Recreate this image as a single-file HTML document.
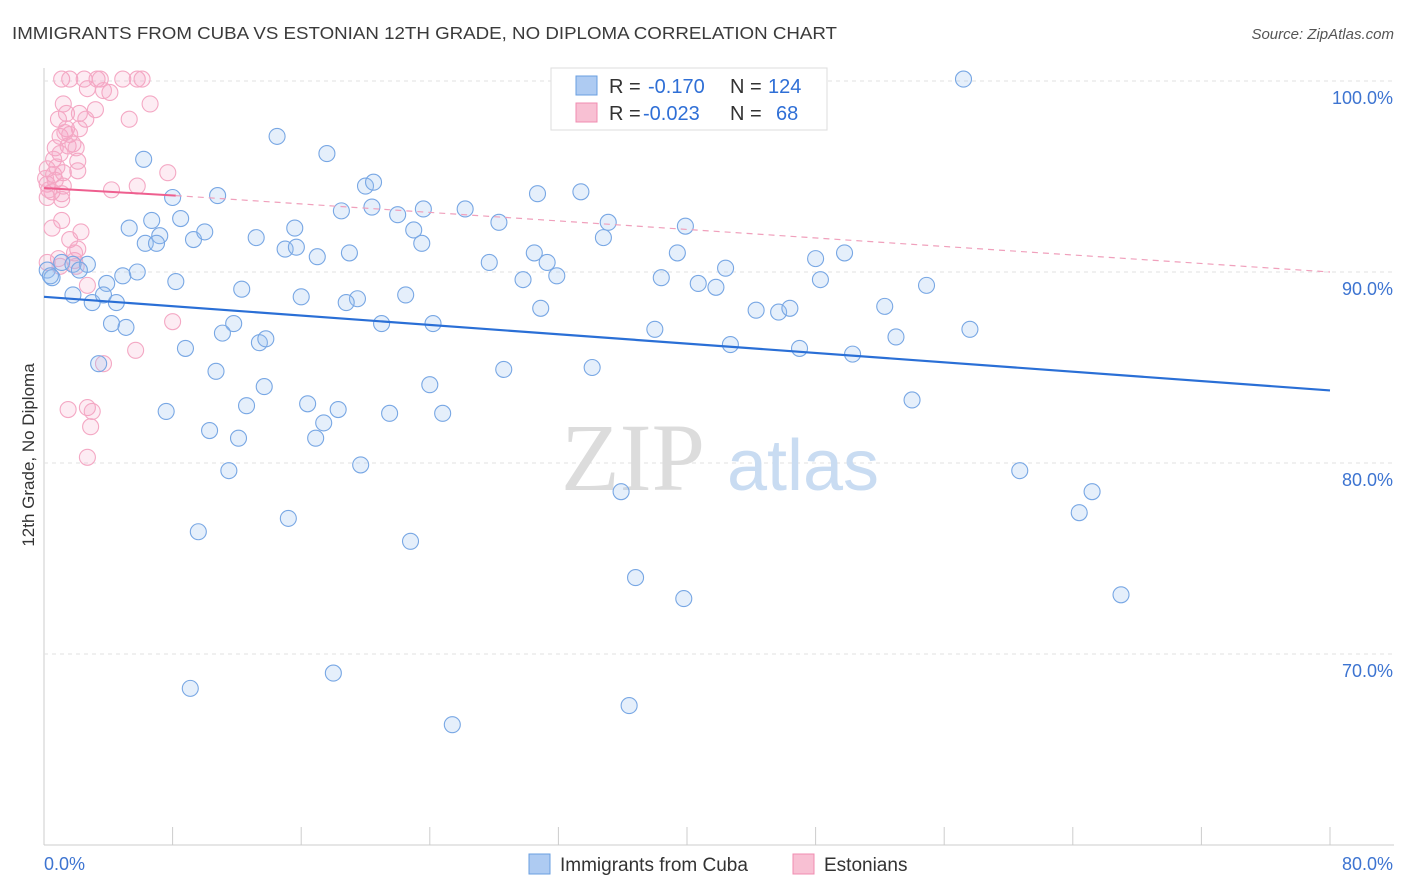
<!DOCTYPE html>
<html><head><meta charset="utf-8">
<style>
body{margin:0;background:#fff;font-family:"Liberation Sans",sans-serif;}
#wrap{position:relative;width:1406px;height:892px;overflow:hidden;}
</style></head>
<body>
<div id="wrap">
<svg id="chart" width="1406" height="892">
  <text x="12" y="39" font-size="17.5" fill="#3a3a3a" textLength="825" lengthAdjust="spacingAndGlyphs">IMMIGRANTS FROM CUBA VS ESTONIAN 12TH GRADE, NO DIPLOMA CORRELATION CHART</text>
  <text x="1394" y="39" font-size="15" fill="#555" text-anchor="end" font-style="italic">Source: ZipAtlas.com</text>
  <text transform="translate(34,455) rotate(-90)" font-size="17" fill="#333" text-anchor="middle">12th Grade, No Diploma</text>
  <g id="grid"></g>
  <g id="watermark">
    <text x="633" y="490" font-size="96" font-family="Liberation Serif,serif" fill="#dcdcdc" text-anchor="middle">ZIP</text>
    <text x="803" y="490" font-size="72" fill="#c9dcf2" text-anchor="middle">atlas</text>
  </g>
  <g id="pts"></g>
  <g id="trend"></g>
  <g>
    <rect x="551" y="68" width="276" height="62" fill="#fff" stroke="#ddd"/>
    <rect x="576" y="76" width="21" height="19" fill="#aecbf2" stroke="#6a9fe0"/>
    <rect x="576" y="103" width="21" height="19" fill="#f8c0d3" stroke="#f08cb0"/>
    <text x="609" y="93" font-size="20" fill="#333">R = <tspan x="648" fill="#2f6fd6">-0.170</tspan><tspan x="730">N = </tspan><tspan x="768" fill="#2f6fd6">124</tspan></text>
    <text x="609" y="120" font-size="20" fill="#333">R = <tspan x="643" fill="#2f6fd6">-0.023</tspan><tspan x="730">N = </tspan><tspan x="776" fill="#2f6fd6">68</tspan></text>
  </g>
  <g>
    <rect x="529" y="854" width="21" height="20" fill="#aecbf2" stroke="#6a9fe0"/>
    <text x="560" y="871" font-size="19" fill="#333">Immigrants from Cuba</text>
    <rect x="793" y="854" width="21" height="20" fill="#f8c0d3" stroke="#f08cb0"/>
    <text x="824" y="871" font-size="19" fill="#333">Estonians</text>
  </g>
</svg>
</div>
<script>
const xTicks=[0,8,16,24,32,40,48,56,64,72,80];
const yTicks=[70,80,90,100];
const yTickLabels=["70.0%","80.0%","90.0%","100.0%"];
const xEndLabels=["0.0%","80.0%"];
const cubaX=[57.2,14.5,17.6,6.2,20.0,20.5,30.7,33.4,10.8,8.0,18.5,20.4,22.0,23.6,26.2,28.3,35.1,39.9,6.7,8.5,5.3,7.2,6.3,7.0,9.3,10.0,15.6,13.2,15.0,15.7,17.0,19.0,23.0,23.5,30.5,31.3,31.9,34.8,39.4,42.4,48.0,49.8,48.3,38.4,40.7,41.8,27.7,29.8,30.9,2.7,1.1,1.8,0.2,0.5,2.2,3.9,4.9,5.8,8.2,12.3,16.0,22.5,19.5,18.8,1.8,3.0,4.5,3.7,4.2,5.1,11.8,11.1,21.0,24.2,13.4,13.8,8.8,38.0,42.7,44.3,45.7,46.4,47.0,50.3,52.3,53.0,54.9,57.6,3.4,10.7,13.7,24.0,28.6,34.1,12.6,16.4,18.3,21.5,24.8,7.6,10.3,12.1,16.9,17.4,19.7,11.5,35.9,60.7,65.2,64.4,9.6,15.2,22.8,36.8,39.8,67.0,9.1,18.0,36.4,25.4,54.0,0.4];
const cubaY=[100.1,97.1,96.2,95.9,94.5,94.7,94.1,94.2,94.0,93.9,93.2,93.4,93.0,93.3,93.3,92.6,92.6,92.4,92.7,92.8,92.3,91.9,91.5,91.5,91.7,92.1,92.3,91.8,91.2,91.3,90.8,91.0,92.2,91.5,91.0,90.5,89.8,91.8,91.0,90.2,90.7,91.0,89.6,89.7,89.4,89.2,90.5,89.6,88.1,90.4,90.5,90.4,90.1,89.7,90.1,89.4,89.8,90.0,89.5,89.1,88.7,88.8,88.6,88.4,88.8,88.4,88.4,88.8,87.3,87.1,87.3,86.8,87.3,87.3,86.3,86.5,86.0,87.0,86.2,88.0,87.9,88.1,86.0,85.7,88.2,86.6,89.3,87.0,85.2,84.8,84.0,84.1,84.9,85.0,83.0,83.1,82.8,82.6,82.6,82.7,81.7,81.3,81.3,82.1,79.9,79.6,78.5,79.6,78.5,77.4,76.4,77.1,75.9,74.0,72.9,73.1,68.2,69.0,67.3,66.3,83.3,89.8];
const estX=[1.1,1.6,2.5,3.3,3.5,4.9,5.8,6.1,2.7,4.1,1.2,6.6,3.2,1.4,2.2,5.3,2.6,1.4,2.2,1.0,1.6,0.7,1.5,1.8,1.0,0.6,2.1,0.2,0.6,1.2,0.7,0.2,1.2,0.5,0.2,1.1,4.2,5.8,7.7,2.1,1.1,0.5,2.3,1.6,2.1,1.9,0.2,1.0,2.0,2.7,8.0,5.7,3.7,1.5,2.7,3.0,2.9,2.7,3.7,0.9,1.3,2.0,0.8,0.1,1.1,0.9,1.9,0.3];
const estY=[100.1,100.1,100.1,100.1,100.1,100.1,100.1,100.1,99.6,99.4,98.8,98.8,98.5,98.3,98.3,98.0,98.0,97.5,97.5,97.1,97.2,96.5,96.6,96.7,96.2,95.9,95.8,95.4,95.1,95.2,94.8,94.6,94.5,94.2,93.9,94.1,94.3,94.5,95.2,95.3,92.7,92.3,92.1,91.7,91.2,90.6,90.5,90.3,90.3,89.3,87.4,85.9,85.2,82.8,82.9,82.7,81.9,80.3,99.5,98.0,97.3,96.5,95.5,94.9,93.8,90.7,91.0,94.3];
const cubaTrendX=[0,80];
const cubaTrendY=[88.7,83.8];
const estTrendX=[0,8.2,80];
const estTrendY=[94.4,94.0,90.0];

const NS="http://www.w3.org/2000/svg";
const X0=44,X1=1330,YTOP=81,PXPER=19.1;
function xs(v){return X0+(v/80)*(X1-X0);}
function ys(v){return YTOP+(100-v)*PXPER;}
function mk(tag,attrs,parent){const e=document.createElementNS(NS,tag);for(const k in attrs)e.setAttribute(k,attrs[k]);parent.appendChild(e);return e;}
const grid=document.getElementById('grid');
mk('line',{x1:X0,y1:68,x2:X0,y2:845,stroke:'#ccc'},grid);
mk('line',{x1:X0,y1:845,x2:1394,y2:845,stroke:'#ccc'},grid);
yTicks.forEach((t,i)=>{
  const gl=mk('line',{x1:X0,y1:ys(t),x2:1394,y2:ys(t),stroke:'#e2e2e2','stroke-dasharray':'4,4'},grid);
  
  
  const tx=mk('text',{x:1393,y:ys(t)+23,'font-size':18,fill:'#3d74d1','text-anchor':'end'},grid);
  tx.textContent=yTickLabels[i];
  
  
});
xTicks.forEach(t=>{
  const tk=mk('line',{x1:xs(t),y1:827,x2:xs(t),y2:845,stroke:'#ccc'},grid);
  
  
});
[[0,'start',xs(0)],[1,'end',1393]].forEach(([i,a,x])=>{
  const tx=mk('text',{x:x,y:870,'font-size':18,fill:'#3d74d1','text-anchor':a},grid);
  tx.textContent=xEndLabels[i];
  
  
});
const pts=document.getElementById('pts');
estX.forEach((v,i)=>{
  const c=mk('circle',{cx:xs(v),cy:ys(estY[i]),r:8,fill:'rgba(245,160,195,0.2)',stroke:'#f4a8c4','stroke-width':1.1},pts);
  
  
});
cubaX.forEach((v,i)=>{
  const c=mk('circle',{cx:xs(v),cy:ys(cubaY[i]),r:8,fill:'rgba(150,190,240,0.25)',stroke:'#78a7e4','stroke-width':1.1},pts);
  
  
});
const tr=document.getElementById('trend');
const bl=mk('line',{x1:xs(cubaTrendX[0]),y1:ys(cubaTrendY[0]),x2:xs(cubaTrendX[1]),y2:ys(cubaTrendY[1]),stroke:'#2a6fd6','stroke-width':2.2},tr);


const pl=mk('line',{x1:xs(estTrendX[0]),y1:ys(estTrendY[0]),x2:xs(estTrendX[1]),y2:ys(estTrendY[1]),stroke:'#ee5f8f','stroke-width':2},tr);


const pd=mk('line',{x1:xs(estTrendX[1]),y1:ys(estTrendY[1]),x2:xs(estTrendX[2]),y2:ys(estTrendY[2]),stroke:'#f0a0bc','stroke-width':1.2,'stroke-dasharray':'6,5'},tr);


</script>
</body></html>
